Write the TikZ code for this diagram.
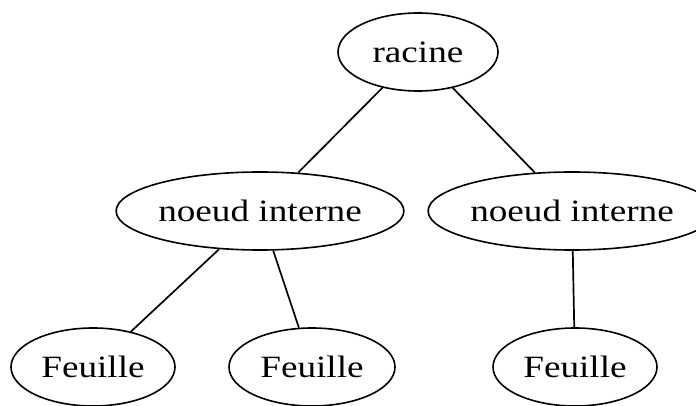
\documentclass[tikz,border=0pt]{standalone}
\usepackage{fontspec}
\setmainfont{Liberation Serif}[FakeStretch=1.2]
\usetikzlibrary{shapes.geometric}

\begin{document}
\begin{tikzpicture}[x=1pt, y=-1pt, main/.style={draw, ellipse, inner sep=0pt, minimum height=78pt, line width=1.6pt, font=\fontsize{31}{37}\selectfont}, n/.style={line width=1.7pt}]
            \useasboundingbox (0,0) rectangle (696,406);
            % nodes
            \node[main, minimum width=160pt] (racine) at (418,52) {racine};

            \node[main, minimum width=266pt] (int1) at (260,211) {noeud interne};
            \node[main, minimum width=248pt] (int2) at (572,211) {noeud interne};

            \node[main, minimum width=164pt] (f1) at (93,367) {Feuille};
            \node[main, minimum width=166pt] (f2) at (312,367) {Feuille};
            \node[main, minimum width=164pt] (f3) at (575,367) {Feuille};
            % edges
            \draw [n] (racine) -- (int1);
            \draw [n] (racine) -- (int2);

            \draw [n] (int1) -- (f1);
            \draw [n] (int1) -- (f2);
            \draw [n] (int2) -- (f3);
        \end{tikzpicture}
\end{document}
